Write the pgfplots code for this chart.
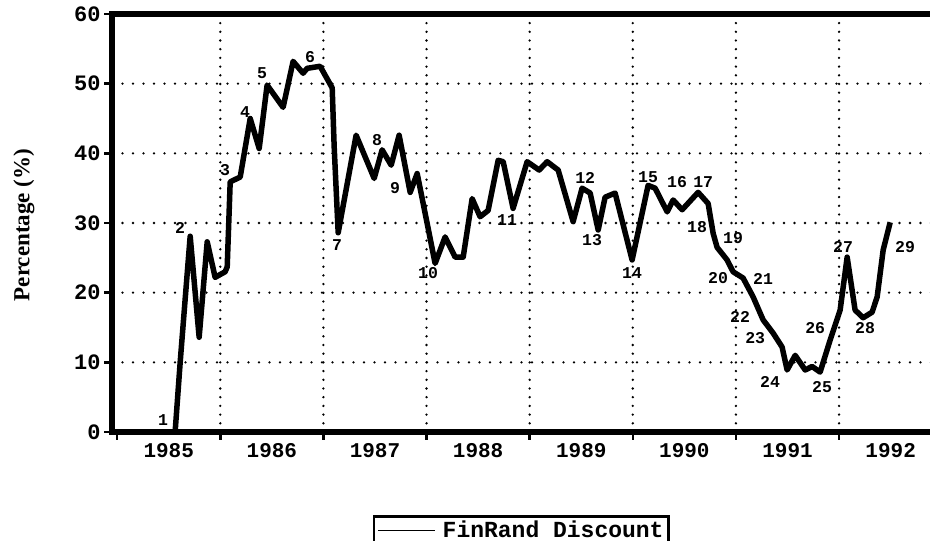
\documentclass[border=0pt]{standalone}
\usepackage{fontspec}
\setmainfont{Liberation Serif}
\setmonofont{Liberation Mono}
\usepackage{pgfplots}
\pgfplotsset{compat=1.18}
\begin{document}
\begin{tikzpicture}
\useasboundingbox (0pt,0pt) rectangle (930pt,541pt);
\begin{axis}[
  at={(112pt,109pt)}, anchor=south west,
  scale only axis, width=835.4pt, height=418pt,
  xmin=1984.95, xmax=1993.05, ymin=0, ymax=60,
  clip=false,
  axis line style={draw=none},
  xtick={1985,1986,...,1993},
  x tick label as interval,
  xticklabels={1985,1986,1987,1988,1989,1990,1991,1992},
  minor xtick={1986,1987,...,1992},
  xminorgrids=true,
  minor tick length=0pt,
  ytick={0,10,...,60},
  yticklabels={0,10,20,30,40,50,60},
  ymajorgrids=true,
  xtick pos=bottom, ytick pos=left,
  tick align=outside,
  major tick length=8pt,
  tick style={black, line width=2.5pt},
  minor grid style={black, line width=2.6pt, line cap=round, dash pattern=on 0pt off 8.7pt},
  major grid style={black, line width=2.6pt, line cap=round, dash pattern=on 0pt off 10.5pt},
  xticklabel style={font=\ttfamily\bfseries\fontsize{21}{24}\selectfont},
  yticklabel style={font=\ttfamily\bfseries\fontsize{22}{24}\selectfont},
  ylabel={Percentage (\%)},
  ylabel style={font=\bfseries\fontsize{23}{26}\selectfont, at={(axis description cs:-0.1055,0.495)}, anchor=center},
  legend style={at={(rel axis cs:0.3124,-0.1986)}, anchor=north west, draw=black, line width=2.5pt,
    font=\ttfamily\bfseries\fontsize{23}{26}\selectfont, inner sep=3pt},
  legend cell align=left,
  legend image code/.code={\draw[line width=1.5pt, black] (0pt,0pt) -- (57pt,0pt);},
]
\addplot[black, line width=5.5pt, line join=round, mark=none] coordinates {
(1984.95,0) (1985.562,0) (1985.611,10) (1985.659,19) (1985.708,28.1) (1985.795,13.6) (1985.873,27.3) (1985.950,22.2) (1986.047,23.0) (1986.067,23.7) (1986.096,35.9) (1986.193,36.6) (1986.290,45.0) (1986.377,40.7) (1986.454,49.8) (1986.609,46.6) (1986.706,53.2) (1986.803,51.5) (1986.842,52.2) (1986.968,52.5) (1987.085,49.4) (1987.104,41.0) (1987.143,28.6) (1987.317,42.6) (1987.492,36.4) (1987.569,40.5) (1987.657,38.3) (1987.734,42.6) (1987.841,34.4) (1987.909,37.1) (1988.083,24.2) (1988.180,28.0) (1988.277,25.1) (1988.355,25.1) (1988.442,33.5) (1988.519,30.9) (1988.597,31.8) (1988.694,39.0) (1988.743,38.8) (1988.839,32.1) (1988.975,38.8) (1989.092,37.6) (1989.169,38.8) (1989.276,37.6) (1989.421,30.2) (1989.508,35.0) (1989.586,34.3) (1989.664,29.0) (1989.731,33.7) (1989.828,34.3) (1989.993,24.7) (1990.148,35.4) (1990.216,35.0) (1990.333,31.6) (1990.391,33.3) (1990.478,31.9) (1990.633,34.4) (1990.730,32.8) (1990.779,28.5) (1990.817,26.5) (1990.914,24.7) (1990.972,23.0) (1991.069,22.1) (1991.166,19.4) (1991.263,16.1) (1991.360,14.2) (1991.447,12.2) (1991.496,8.9) (1991.574,11.0) (1991.671,8.9) (1991.738,9.4) (1991.816,8.6) (1991.913,13.2) (1992.010,17.5) (1992.078,25.1) (1992.155,17.5) (1992.233,16.4) (1992.320,17.2) (1992.369,19.4) (1992.427,26.1) (1992.495,30.1)
};
\addlegendentry{\hspace{5pt}FinRand Discount\hspace{4pt}}
\draw[black, line width=5.5pt, line join=miter] (rel axis cs:1,1) -- (rel axis cs:0,1) -- (rel axis cs:0,0) -- (rel axis cs:1,0);
\begin{scope}[every node/.style={font=\ttfamily\bfseries\fontsize{16.5}{18}\selectfont, inner sep=0pt}]
\node at (axis cs:1985.446,1.72) {1};
\node at (axis cs:1985.611,29.28) {2};
\node at (axis cs:1986.047,37.6) {3};
\node at (axis cs:1986.241,45.93) {4};
\node at (axis cs:1986.406,51.53) {5};
\node at (axis cs:1986.871,53.8) {6};
\node at (axis cs:1987.133,26.84) {7};
\node at (axis cs:1987.521,41.91) {8};
\node at (axis cs:1987.695,35.02) {9};
\node at (axis cs:1988.015,22.82) {10};
\node at (axis cs:1988.781,30.43) {11};
\node at (axis cs:1989.538,36.46) {12};
\node at (axis cs:1989.605,27.56) {13};
\node at (axis cs:1989.993,22.82) {14};
\node at (axis cs:1990.148,36.6) {15};
\node at (axis cs:1990.429,35.88) {16};
\node at (axis cs:1990.682,35.88) {17};
\node at (axis cs:1990.623,29.42) {18};
\node at (axis cs:1990.972,27.85) {19};
\node at (axis cs:1990.827,22.1) {20};
\node at (axis cs:1991.263,21.96) {21};
\node at (axis cs:1991.040,16.51) {22};
\node at (axis cs:1991.186,13.49) {23};
\node at (axis cs:1991.331,7.18) {24};
\node at (axis cs:1991.835,6.46) {25};
\node at (axis cs:1991.768,14.93) {26};
\node at (axis cs:1992.039,26.55) {27};
\node at (axis cs:1992.252,14.93) {28};
\node at (axis cs:1992.640,26.55) {29};
\end{scope}
\end{axis}
\end{tikzpicture}
\end{document}
